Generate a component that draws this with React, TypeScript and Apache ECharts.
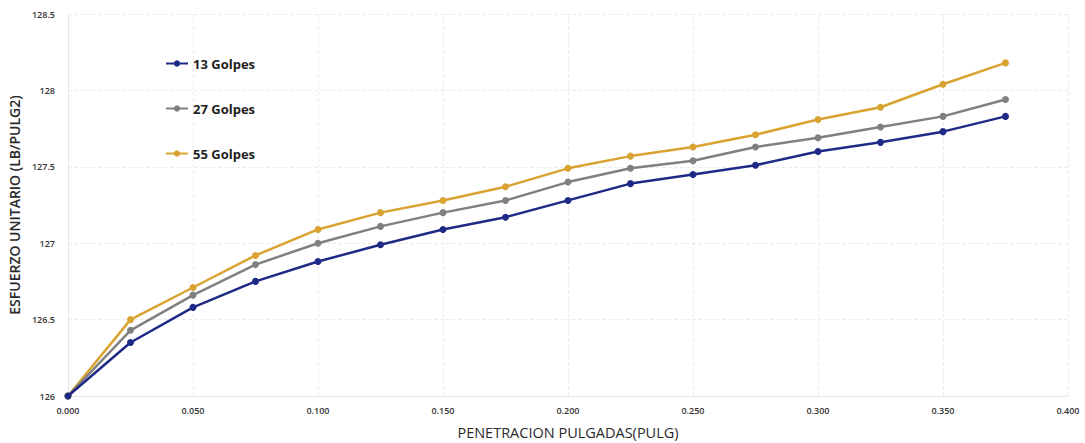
import React, { useEffect, useRef } from "react";
import * as echarts from "echarts";

const penetracion = [0, 0.025, 0.05, 0.075, 0.1, 0.125, 0.15, 0.175, 0.2, 0.225, 0.25, 0.275, 0.3, 0.325, 0.35, 0.375];
const golpes13 = [126, 126.35, 126.58, 126.75, 126.88, 126.99, 127.09, 127.17, 127.28, 127.39, 127.45, 127.51, 127.6, 127.66, 127.73, 127.83];
const golpes27 = [126, 126.43, 126.66, 126.86, 127.0, 127.11, 127.2, 127.28, 127.4, 127.49, 127.54, 127.63, 127.69, 127.76, 127.83, 127.94];
const golpes55 = [126, 126.5, 126.71, 126.92, 127.09, 127.2, 127.28, 127.37, 127.49, 127.57, 127.63, 127.71, 127.81, 127.89, 128.04, 128.18];
const seriesNames = ["13 Golpes", "27 Golpes", "55 Golpes"];
const seriesColors = ["#1f2a86", "#808080", "#d9a331"];

export default function App() {
  const ref = useRef<HTMLDivElement>(null);
  useEffect(() => {
    if (!ref.current) return;
    const chart = echarts.init(ref.current, undefined, { renderer: "svg" });
    const all = [golpes13, golpes27, golpes55];
    chart.setOption({
      animation: false,
      backgroundColor: "#ffffff",
      grid: { left: 68, right: 17, top: 14, bottom: 47, outerBoundsMode: "none", containLabel: false },
      legend: {
        orient: "vertical",
        left: 160,
        top: 52,
        itemGap: 32,
        itemWidth: 22,
        itemHeight: 8,
        textStyle: { fontFamily: "Open Sans", fontWeight: "bold", fontSize: 13, color: "#222" },
        data: seriesNames,
      },
      xAxis: {
        type: "value",
        min: 0,
        max: 0.4,
        interval: 0.05,
        name: "PENETRACION PULGADAS(PULG)",
        nameLocation: "middle",
        nameGap: 29,
        nameTextStyle: { fontFamily: "Open Sans", fontSize: 14.5, color: "#2a2a2a" },
        axisLine: { show: true, lineStyle: { color: "#e6e6e6" } },
        axisTick: { show: false },
        axisLabel: {
          formatter: (v: number) => v.toFixed(3),
          fontFamily: "Open Sans",
          fontSize: 9,
          fontWeight: 600,
          color: "#333",
          margin: 10,
        },
        splitLine: { show: true, lineStyle: { color: "#ececec", type: "dashed" } },
      },
      yAxis: {
        type: "value",
        min: 126,
        max: 128.5,
        interval: 0.5,
        name: "ESFUERZO UNITARIO (LB/PULG2)",
        nameLocation: "middle",
        nameGap: 45,
        nameTextStyle: { fontFamily: "Open Sans", fontSize: 14, fontWeight: 600, color: "#2a2a2a" },
        axisLine: { show: true, lineStyle: { color: "#e6e6e6" } },
        axisTick: { show: false },
        axisLabel: { fontFamily: "Open Sans", fontSize: 9, fontWeight: 600, color: "#333", margin: 13 },
        splitLine: { show: true, lineStyle: { color: "#ececec", type: "dashed" } },
      },
      series: all.map((vals, i) => ({
        name: seriesNames[i],
        type: "line",
        data: penetracion.map((x, j) => [x, vals[j]]),
        symbol: "circle",
        symbolSize: 7,
        lineStyle: { width: 2.5, color: seriesColors[i] },
        itemStyle: { color: seriesColors[i] },
        z: 3 - i,
      })),
    });
    return () => chart.dispose();
  }, []);
  return (
    <div
      ref={ref}
      style={{ position: "absolute", left: 0, top: 0, width: 1085, height: 443 }}
    />
  );
}
